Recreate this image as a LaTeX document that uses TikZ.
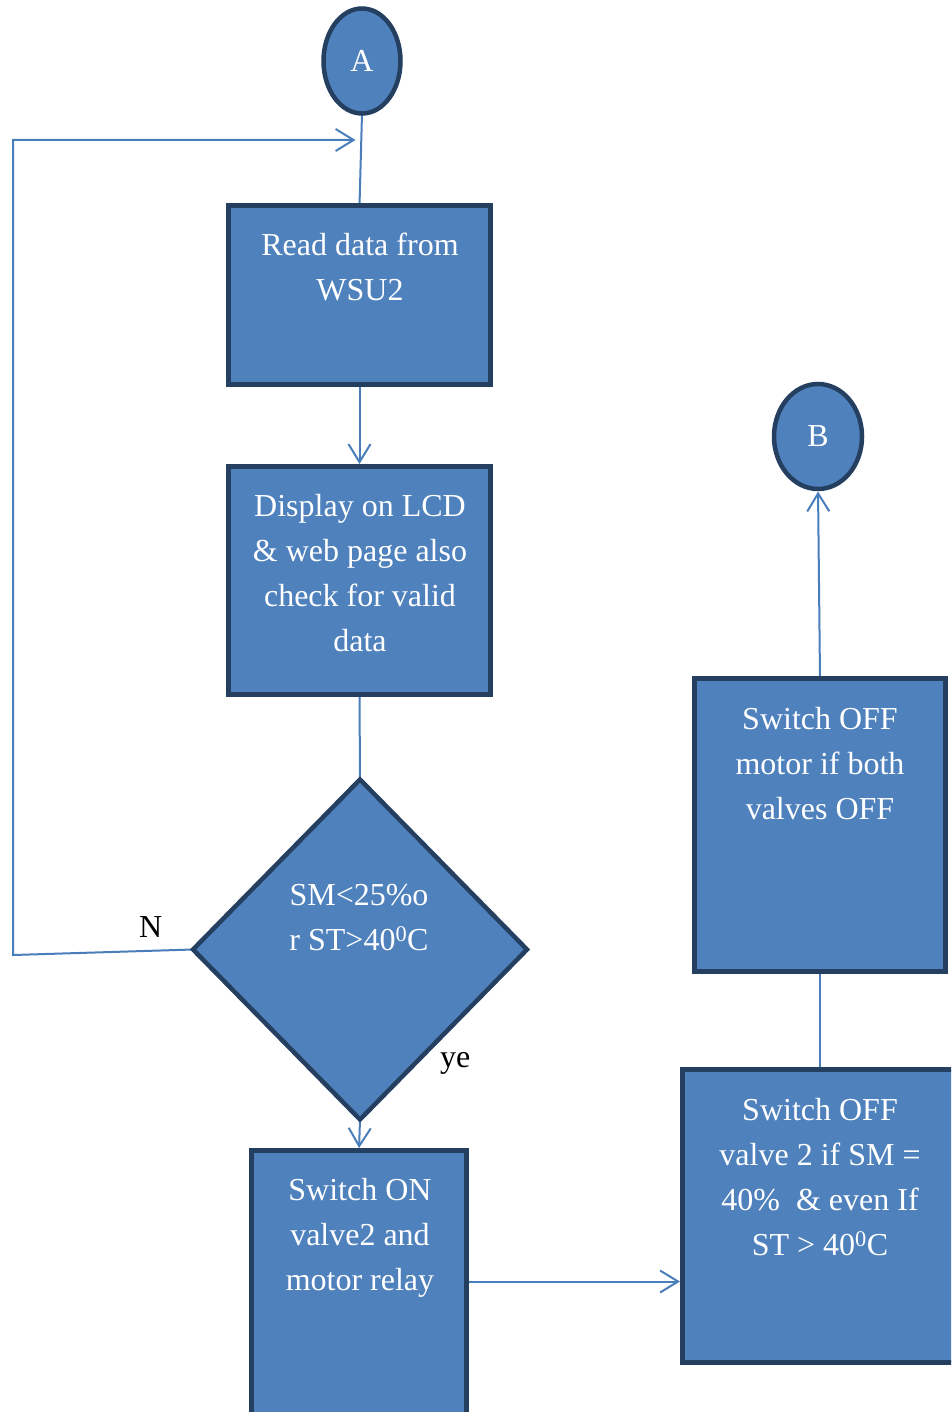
\documentclass[tikz,border=0pt]{standalone}
\usepackage{fontspec}
\setmainfont{Liberation Serif}
\usetikzlibrary{shapes.geometric,arrows.meta,backgrounds}
\definecolor{boxfill}{HTML}{4F81BD}
\definecolor{boxline}{HTML}{243F60}
\definecolor{connc}{HTML}{4A7EBB}
\begin{document}
\begin{tikzpicture}[x=1pt,y=-1pt,
  box/.style={draw=boxline, fill=boxfill, line width=5pt, inner sep=0pt, outer sep=0pt, anchor=north west},
  term/.style={ellipse, draw=boxline, fill=boxfill, line width=4.5pt, inner sep=0pt, outer sep=0pt, text=white, font=\fontsize{32}{45}\selectfont},
  decis/.style={diamond, draw=boxline, fill=boxfill, line width=4.5pt, inner sep=0pt, outer sep=0pt},
  txt/.style={text=white, align=center, inner sep=0pt, anchor=north, font=\fontsize{32}{45}\selectfont},
  lbl/.style={text=black, inner sep=0pt, anchor=base west, font=\fontsize{32}{45}\selectfont},
  conn/.style={draw=connc, line width=2pt},
  arr/.style={conn, shorten >=2.5pt, -{Straight Barb[length=18pt,width=22pt,line width=2pt]}}
]
\useasboundingbox (0,0) rectangle (951,1412);
\clip (0,0) rectangle (951,1412);

% terminals
\node[term, minimum width=77pt, minimum height=105pt] (A) at (362,61) {A};
\node[term, minimum width=88pt, minimum height=105pt] (B) at (818,436.5) {B};

% boxes
\node[box, minimum width=262pt, minimum height=179pt] (r1) at (228.5,205.5) {};
\node[box, minimum width=262pt, minimum height=228pt] (r2) at (228.5,466.5) {};
\node[decis, minimum width=334pt, minimum height=340pt] (d) at (360,949.5) {};
\node[box, minimum width=215pt, minimum height=280pt] (r3) at (251.5,1150.5) {};
\node[box, minimum width=275pt, minimum height=293pt] (r4) at (682.5,1069.5) {};
\node[box, minimum width=251pt, minimum height=293pt] (r5) at (694.5,678.5) {};

% texts
\node[txt] (t1) at (360,223.5) {\strut Read data from\\WSU2};
\node[txt] (t2) at (360,484.5) {\strut Display on LCD\\\& web page also\\check for valid\\data};
\node[txt] (td) at (359,873.5) {\strut SM<25\%o\\r ST>40\textsuperscript{0}C};
\node[txt] (t3) at (360,1168.5) {\strut Switch ON\\valve2 and\\motor relay};
\node[txt] (t4) at (820,1088.5) {\strut Switch OFF\\valve 2 if SM =\\40\%\ \ \& even If\\ST > 40\textsuperscript{0}C};
\node[txt] (t5) at (820,697.5) {\strut Switch OFF\\motor if both\\valves OFF};

% labels
\node[lbl] (nN) at (139,937) {N};
\node[lbl] (nY) at (440,1067) {ye};

% connectors
\coordinate (lp) at (13,955);
\coordinate (lptip) at (358,140);
\coordinate (h) at (0,1281.5);
\begin{scope}[on background layer]
\draw[conn] (A.south) -- (r1.north);
\draw[arr] (d.west) -- (lp) |- (lptip);
\draw[arr] (r1.south) -- (r2.north);
\draw[conn] (r2.south) -- (d.north);
\draw[arr] (d.south) -- (r3.north);
\draw[arr] (r3.east |- h) -- (r4.west |- h);
\draw[conn] (r4.north) -- (r5.south);
\draw[arr] (r5.north) -- (B.south);
\end{scope}
\end{tikzpicture}
\end{document}
